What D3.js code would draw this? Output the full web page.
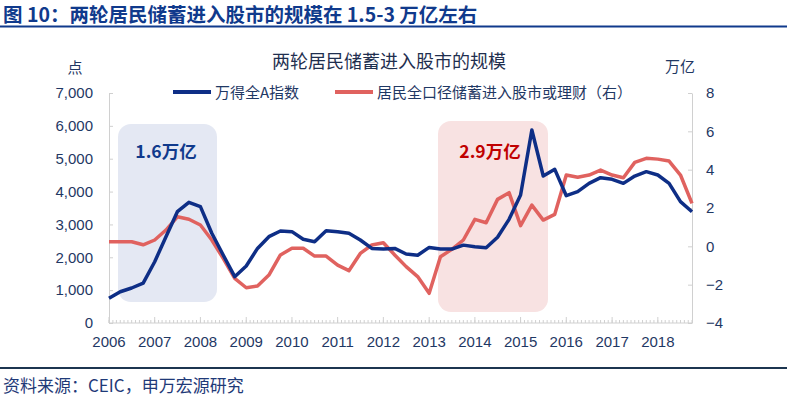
<!DOCTYPE html>
<html>
<head>
<meta charset="utf-8">
<script src="https://cdn.jsdelivr.net/npm/d3@7"></script>
<style>
  body { margin: 0; background: #fff; }
  svg { display: block; font-family: "Noto Sans CJK SC", "Liberation Sans", Arial, sans-serif; }
</style>
</head>
<body>
<svg id="chart" width="787" height="398"></svg>
<script>
// quarterly points, 2006Q1 .. 2018Q4
var quarters = d3.range(52).map(function(i) {
    return new Date(2006 + Math.floor(i / 4), (i % 4) * 3, 1);
});

// 万得全A指数 (left axis, 点)
var windA = [
    750, 950, 1065, 1215, 1865, 2626, 3387, 3672, 3540, 2730, 2070, 1410,
    1735, 2270, 2627, 2800, 2780, 2547, 2475, 2810, 2780, 2730, 2525, 2270,
    2250, 2270, 2100, 2060, 2300, 2250, 2250, 2370, 2320, 2290, 2610, 3155,
    3895, 5873, 4473, 4677, 3874, 3996, 4250, 4423, 4373, 4250, 4473, 4605,
    4504, 4250, 3692, 3387
];

// 居民全口径储蓄进入股市或理财 (right axis, 万亿)
var savings = [
    0.24, 0.24, 0.24, 0.08, 0.33, 0.85, 1.54, 1.41, 1.11, 0.33, -0.63, -1.67,
    -2.16, -2.07, -1.50, -0.45, -0.10, -0.10, -0.51, -0.51, -0.98, -1.27, -0.37, 0.07,
    0.19, -0.45, -1.06, -1.58, -2.45, -0.54, -0.16, 0.33, 1.41, 1.23, 2.45, 2.80,
    1.08, 2.15, 1.37, 1.67, 3.72, 3.60, 3.72, 3.98, 3.72, 3.58, 4.38, 4.59,
    4.55, 4.45, 3.72, 2.24
];

var leftTicks = [0, 1000, 2000, 3000, 4000, 5000, 6000, 7000];
var rightTicks = [-4, -2, 0, 2, 4, 6, 8];
var yearTicks = d3.range(2006, 2019);

// the two waves of savings moving into stocks
var boxLabels = ["1.6万亿", "2.9万亿"];

var svg = d3.select("#chart");
var navy = "#0e2e86", red = "#e0625f", txt = "#1f3864", axisGrey = "#d0d0d0";

var margin = { left: 109, right: 692, top: 93, bottom: 323 };

var x = d3.scaleTime()
    .domain([quarters[0], quarters[quarters.length - 1]])
    .range([margin.left, margin.right]);
var yL = d3.scaleLinear().domain([0, 7000]).range([margin.bottom, margin.top]);
var yR = d3.scaleLinear().domain([-4, 8]).range([margin.bottom, margin.top]);

// header
svg.append("text")
    .attr("x", 3).attr("y", 21.5)
    .attr("fill", "#103a8c")
    .style("font-size", "19.5px")
    .style("font-weight", "bold")
    .text("图 10：两轮居民储蓄进入股市的规模在 1.5-3 万亿左右");
svg.append("rect")
    .attr("x", 0).attr("y", 25.5).attr("width", 787).attr("height", 2)
    .attr("fill", "#103a8c");

// footer
svg.append("rect")
    .attr("x", 0).attr("y", 367).attr("width", 787).attr("height", 2)
    .attr("fill", "#1c3550");
svg.append("text")
    .attr("x", 3).attr("y", 392)
    .attr("fill", "#1f3a78")
    .style("font-size", "17px")
    .text("资料来源：CEIC，申万宏源研究");

// highlight boxes
var boxStyle = [
    { x0: 118, x1: 217, y0: 124, y1: 302, cx: 166, fill: "#e4e8f3", color: "#103a8c" },
    { x0: 438, x1: 548, y0: 121, y1: 312, cx: 490, fill: "#f8e2e2", color: "#c00000" }
];
boxLabels.forEach(function(label, i) {
    var s = boxStyle[i];
    svg.append("rect")
        .attr("x", s.x0).attr("y", s.y0)
        .attr("width", s.x1 - s.x0).attr("height", s.y1 - s.y0)
        .attr("rx", 13).attr("ry", 13)
        .attr("fill", s.fill);
    svg.append("text")
        .attr("x", s.cx)
        .attr("y", 158)
        .attr("text-anchor", "middle")
        .attr("fill", s.color)
        .style("font-size", "17.5px")
        .style("font-weight", "bold")
        .text(label);
});

// chart title
svg.append("text")
    .attr("x", 389).attr("y", 68)
    .attr("text-anchor", "middle")
    .attr("fill", "#1f2f4f")
    .style("font-size", "18px")
    .text("两轮居民储蓄进入股市的规模");

// unit labels
svg.append("text").attr("x", 75).attr("y", 73).attr("text-anchor", "middle")
    .attr("fill", txt).style("font-size", "15px").text("点");
svg.append("text").attr("x", 680).attr("y", 72).attr("text-anchor", "middle")
    .attr("fill", txt).style("font-size", "15px").text("万亿");

// legend
var legend = [
    { x: 173, color: navy, label: "万得全A指数" },
    { x: 335, color: red, label: "居民全口径储蓄进入股市或理财（右）" }
];
legend.forEach(function(l) {
    svg.append("line")
        .attr("x1", l.x).attr("x2", l.x + 38)
        .attr("y1", 92).attr("y2", 92)
        .attr("stroke", l.color).attr("stroke-width", 4);
    svg.append("text")
        .attr("x", l.x + 42).attr("y", 97.5)
        .attr("fill", txt)
        .style("font-size", "15px")
        .text(l.label);
});

// left axis
var gL = svg.append("g").attr("transform", "translate(" + margin.left + ",0)")
    .call(d3.axisLeft(yL).tickValues(leftTicks).tickSizeInner(-4).tickSizeOuter(0)
        .tickPadding(16).tickFormat(d3.format(",")));
// right axis
var gR = svg.append("g").attr("transform", "translate(" + margin.right + ",0)")
    .call(d3.axisRight(yR).tickValues(rightTicks).tickSizeInner(-4).tickSizeOuter(0)
        .tickPadding(14));
[gL, gR].forEach(function(g) {
    g.select(".domain").attr("stroke", axisGrey);
    g.selectAll(".tick line").attr("stroke", axisGrey);
    g.selectAll(".tick text").attr("fill", txt).style("font-size", "15px")
        .style("font-family", "'Liberation Sans', Arial, sans-serif");
});

// x axis: monthly minor ticks, yearly major ticks
var gX = svg.append("g").attr("transform", "translate(0," + margin.bottom + ")");
gX.append("line")
    .attr("x1", margin.left).attr("x2", margin.right)
    .attr("stroke", axisGrey);
var months = d3.timeMonth.range(quarters[0], d3.timeMonth.offset(quarters[quarters.length - 1], 1));
gX.selectAll("line.minor").data(months).enter().append("line")
    .attr("class", "minor")
    .attr("x1", function(d) { return x(d); }).attr("x2", function(d) { return x(d); })
    .attr("y1", 0).attr("y2", -3)
    .attr("stroke", axisGrey);
gX.selectAll("line.major").data(yearTicks).enter().append("line")
    .attr("x1", function(d) { return x(new Date(d, 0, 1)); })
    .attr("x2", function(d) { return x(new Date(d, 0, 1)); })
    .attr("y1", 0).attr("y2", -6)
    .attr("stroke", axisGrey);
gX.selectAll("text").data(yearTicks).enter().append("text")
    .attr("x", function(d) { return x(new Date(d, 0, 1)); })
    .attr("y", 24)
    .attr("text-anchor", "middle")
    .attr("fill", txt)
    .style("font-size", "15px")
    .style("font-family", "'Liberation Sans', Arial, sans-serif")
    .text(function(d) { return d; });

// lines
var lineL = d3.line().x(function(d, i) { return x(quarters[i]); }).y(function(d) { return yL(d); });
var lineR = d3.line().x(function(d, i) { return x(quarters[i]); }).y(function(d) { return yR(d); });

svg.append("path").datum(savings)
    .attr("d", lineR)
    .attr("fill", "none").attr("stroke", red)
    .attr("stroke-width", 3.5).attr("stroke-linejoin", "round");
svg.append("path").datum(windA)
    .attr("d", lineL)
    .attr("fill", "none").attr("stroke", navy)
    .attr("stroke-width", 3.5).attr("stroke-linejoin", "round");
</script>
</body>
</html>
